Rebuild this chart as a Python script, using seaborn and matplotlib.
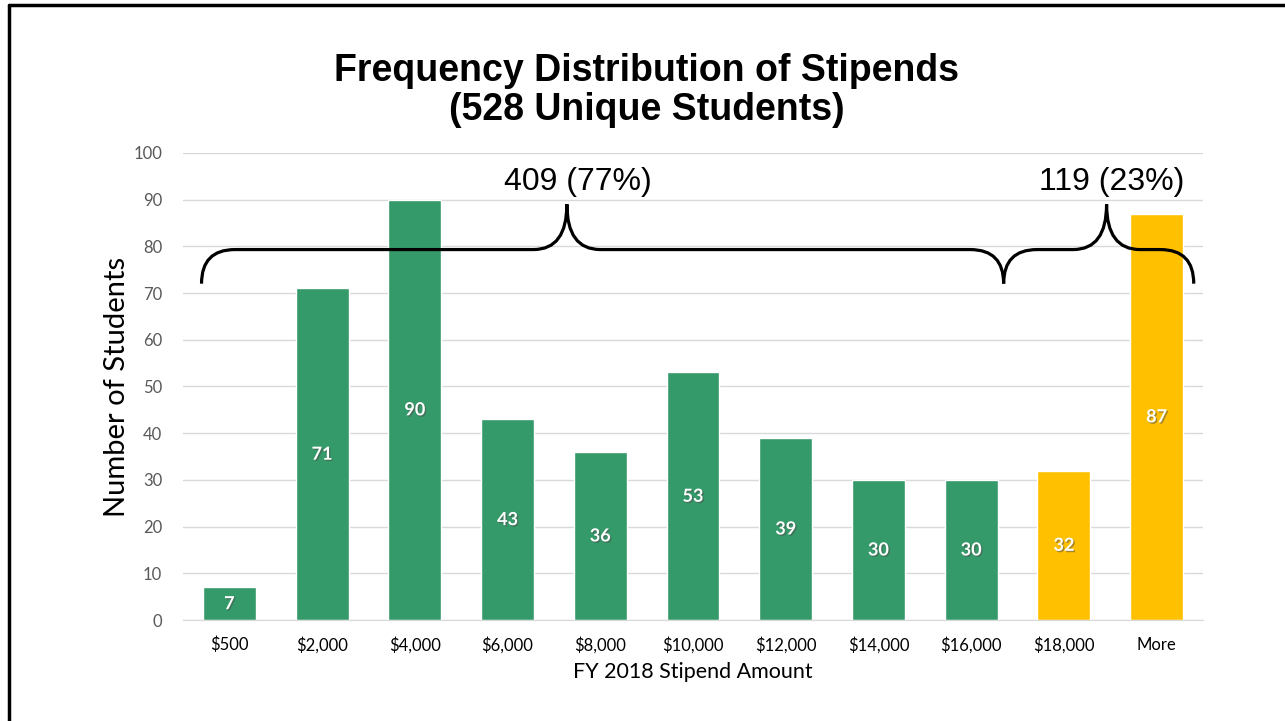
import matplotlib
matplotlib.use("Agg")
import matplotlib.pyplot as plt
import matplotlib.patheffects as pe
from matplotlib.path import Path
from matplotlib.patches import PathPatch
from matplotlib.lines import Line2D
import seaborn as sns
import pandas as pd

# ---------------------------
# Data
# ---------------------------
categories = ["$500", "$2,000", "$4,000", "$6,000", "$8,000", "$10,000",
              "$12,000", "$14,000", "$16,000", "$18,000", "More"]
students = [7, 71, 90, 43, 36, 53, 39, 30, 30, 32, 87]
groups = ["low"] * 9 + ["high"] * 2
group_labels = ["409 (77%)", "119 (23%)"]

GREEN = "#359A69"
YELLOW = "#FFC000"

df = pd.DataFrame({"amount": categories, "count": students, "group": groups})

sns.set_style("white")
plt.rcParams["font.family"] = ["Lato", "DejaVu Sans"]
plt.rcParams["text.color"] = "black"

fig = plt.figure(figsize=(12.85, 7.21), dpi=100)
ax = fig.add_axes([0.1424, 0.140, 0.7938, 0.648])

sns.barplot(data=df, x="amount", y="count", hue="group",
            palette={"low": GREEN, "high": YELLOW}, dodge=False,
            width=0.57, legend=False, saturation=1, ax=ax)

ax.set_ylim(0, 100)
ax.set_xlim(-0.5, len(categories) - 0.5)
ax.set_yticks(range(0, 101, 10))
ax.yaxis.grid(True, color="#D9D9D9", lw=1)
ax.set_axisbelow(True)
for s in ["top", "right", "left"]:
    ax.spines[s].set_visible(False)
ax.spines["bottom"].set_color("#D9D9D9")
ax.tick_params(axis="both", length=0, labelsize=12, colors="#595959")
ax.tick_params(axis="y", pad=15)
ax.tick_params(axis="x", labelcolor="#000000", pad=12)

ax.set_xlabel("FY 2018 Stipend Amount", fontsize=15.5, color="#000000", labelpad=6)
ax.set_ylabel("Number of Students", fontsize=21, color="#000000", labelpad=2)

# value labels in the middle of each bar
for i, v in enumerate(students):
    ax.text(i, v / 2, str(v), ha="center", va="center", color="white",
            fontsize=13, fontweight="bold",
            path_effects=[pe.SimplePatchShadow(offset=(1, -1), alpha=0.5),
                          pe.Normal()])

# title
fig.text(0.503, 0.875, "Frequency Distribution of Stipends\n(528 Unique Students)",
         ha="center", va="center", fontsize=27, fontweight="bold",
         family="Liberation Sans", linespacing=1.1, color="black")


# ---------------------------
# Curly braces
# ---------------------------
def brace(ax, x0, x1, xm, y_tip, y_line, y_top, r=0.36):
    verts = [(x0, y_tip), (x0, y_line), (x0 + r, y_line),
             (xm - r, y_line),
             (xm, y_line), (xm, y_top),
             (xm, y_line), (xm + r, y_line),
             (x1 - r, y_line),
             (x1, y_line), (x1, y_tip)]
    codes = [Path.MOVETO, Path.CURVE3, Path.CURVE3,
             Path.LINETO,
             Path.CURVE3, Path.CURVE3,
             Path.CURVE3, Path.CURVE3,
             Path.LINETO,
             Path.CURVE3, Path.CURVE3]
    ax.add_patch(PathPatch(Path(verts, codes), fill=False, lw=2.3,
                           color="black", clip_on=False, zorder=5))


brace(ax, -0.30, 8.35, 3.64, 72.0, 79.3, 89.0)
brace(ax, 8.35, 10.40, 9.46, 72.0, 79.3, 89.0)
ax.text(3.76, 93.8, group_labels[0], ha="center", va="center",
        fontsize=23, family="Liberation Sans", color="black")
ax.text(9.52, 93.8, group_labels[1], ha="center", va="center",
        fontsize=23, family="Liberation Sans", color="black")

# slide frame
fig.add_artist(Line2D([0.007, 1.0], [0.993, 0.993], color="black", lw=2.5,
                      transform=fig.transFigure))
fig.add_artist(Line2D([0.007, 0.007], [0.0, 0.993], color="black", lw=2.5,
                      transform=fig.transFigure))

fig.savefig("out.png", dpi=100)
